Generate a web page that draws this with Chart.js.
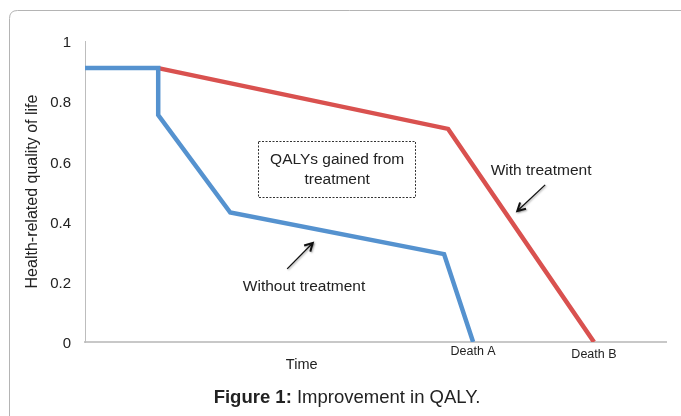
<!DOCTYPE html>
<html>
<head>
<meta charset="utf-8">
<script src="https://cdn.jsdelivr.net/npm/chart.js@4.4.1/dist/chart.umd.min.js"></script>
<style>
html,body{margin:0;padding:0;background:#fff;}
#wrap{width:681px;height:416px;position:relative;}
</style>
</head>
<body>
<div id="wrap"><canvas id="c" width="681" height="416"></canvas></div>
<script>
// ---- data (time in arbitrary units, quality of life 0..1) ----
const withoutTime = [0, 12.6, 12.6, 25.0, 61.8, 66.8];
const withoutQoL  = [0.91, 0.91, 0.754, 0.43, 0.292, 0];
const withTime    = [12.6, 62.5, 87.6];
const withQoL     = [0.91, 0.708, 0];
const yTickValues = [0, 0.2, 0.4, 0.6, 0.8, 1];
const yTickLabels = ['0', '0.2', '0.4', '0.6', '0.8', '1'];
const eventLabels = ['Death A', 'Death B'];
const eventTimes  = [66.8, 87.6];
const seriesNames = ['Without treatment', 'With treatment'];
const boxLines    = ['QALYs gained from', 'treatment'];

const FONT = '"Liberation Sans", Arial, sans-serif';
const TXT = '#222';

function arrow(ctx, x1, y1, x2, y2) {
  ctx.save();
  ctx.strokeStyle = '#111';
  ctx.lineWidth = 1.3;
  ctx.shadowColor = 'rgba(0,0,0,0.35)';
  ctx.shadowBlur = 2; ctx.shadowOffsetX = 1; ctx.shadowOffsetY = 1;
  ctx.beginPath(); ctx.moveTo(x1, y1); ctx.lineTo(x2, y2); ctx.stroke();
  const a = Math.atan2(y2 - y1, x2 - x1), L = 9, s = 0.5;
  ctx.lineWidth = 2;
  ctx.beginPath();
  ctx.moveTo(x2 - L * Math.cos(a - s), y2 - L * Math.sin(a - s));
  ctx.lineTo(x2, y2);
  ctx.lineTo(x2 - L * Math.cos(a + s), y2 - L * Math.sin(a + s));
  ctx.stroke();
  ctx.restore();
}

const deco = {
  id: 'deco',
  beforeDraw(chart) {
    const ctx = chart.ctx;
    ctx.save();
    ctx.fillStyle = '#fff';
    ctx.fillRect(0, 0, chart.width, chart.height);
    ctx.strokeStyle = '#b4b4b4';
    ctx.lineWidth = 1;
    const x = 9.5, y = 10.5, w = 700, h = 430, r = 8;
    ctx.beginPath();
    ctx.moveTo(x + r, y); ctx.lineTo(x + w, y);
    ctx.moveTo(x, y + h); ctx.lineTo(x, y + r);
    ctx.quadraticCurveTo(x, y, x + r, y);
    ctx.stroke();
    ctx.restore();
  },
  afterDraw(chart) {
    const ctx = chart.ctx;
    const xs = chart.scales.x, ys = chart.scales.y;
    const X = v => xs.getPixelForValue(v), Y = v => ys.getPixelForValue(v);
    const bottom = chart.chartArea.bottom;
    ctx.save();
    ctx.fillStyle = TXT;
    ctx.textAlign = 'center';
    ctx.textBaseline = 'middle';
    ctx.font = '12.5px ' + FONT;
    ctx.fillText(eventLabels[0], X(eventTimes[0]), bottom + 10);
    ctx.fillText(eventLabels[1], X(eventTimes[1]), bottom + 13);
    ctx.font = '14.5px ' + FONT;
    ctx.fillText('Time', X(37.3), bottom + 23);
    ctx.save();
    ctx.strokeStyle = '#333';
    ctx.lineWidth = 1;
    ctx.setLineDash([2, 1.5]);
    const bx1 = Math.round(X(29.8)) + 0.5, bx2 = Math.round(X(56.8)) + 0.5;
    const by1 = Math.round(Y(0.667)) + 0.5, by2 = Math.round(Y(0.482)) + 0.5;
    ctx.strokeRect(bx1, by1, bx2 - bx1, by2 - by1);
    ctx.restore();
    ctx.font = '15.5px ' + FONT;
    ctx.fillText(boxLines[0], X(43.4), Y(0.605));
    ctx.fillText(boxLines[1], X(43.4), Y(0.538));
    ctx.fillText(seriesNames[1], X(78.5), Y(0.568));
    ctx.fillText(seriesNames[0], X(37.7), Y(0.183));
    arrow(ctx, X(79.2), Y(0.522), X(74.4), Y(0.435));
    arrow(ctx, X(34.8), Y(0.243), X(39.2), Y(0.329));
    const p1 = 'Figure 1:';
    const p2 = ' Improvement in QALY.';
    ctx.font = 'bold 18.5px ' + FONT;
    const w1 = ctx.measureText(p1).width;
    ctx.font = '18.5px ' + FONT;
    const w2 = ctx.measureText(p2).width;
    const cx = 347, cy = 398;
    const sx = cx - (w1 + w2) / 2;
    ctx.textAlign = 'left';
    ctx.font = 'bold 18.5px ' + FONT;
    ctx.fillText(p1, sx, cy);
    ctx.font = '18.5px ' + FONT;
    ctx.fillText(p2, sx + w1, cy);
    ctx.restore();
  }
};

new Chart(document.getElementById('c'), {
  type: 'line',
  data: {
    datasets: [
      {
        label: seriesNames[0],
        data: withoutTime.map((t, i) => ({x: t, y: withoutQoL[i]})),
        borderColor: '#5592cf',
        borderWidth: 4.5,
        pointRadius: 0,
        tension: 0,
        fill: false,
        borderJoinStyle: 'miter',
        borderCapStyle: 'butt'
      },
      {
        label: seriesNames[1],
        data: withTime.map((t, i) => ({x: t, y: withQoL[i]})),
        borderColor: '#d9514f',
        borderWidth: 4.5,
        pointRadius: 0,
        tension: 0,
        fill: false,
        borderJoinStyle: 'miter',
        borderCapStyle: 'butt'
      }
    ]
  },
  options: {
    responsive: false,
    animation: false,
    events: [],
    layout: {padding: {left: 0, top: 41, right: 15, bottom: 74}},
    plugins: {legend: {display: false}, tooltip: {enabled: false}, title: {display: false}},
    scales: {
      x: {
        type: 'linear',
        min: 0,
        max: 100,
        grid: {display: false, drawTicks: false},
        border: {display: true, color: '#c8c8c8', width: 2},
        ticks: {display: false},
        afterFit(s) { s.height = 0; }
      },
      y: {
        type: 'linear',
        min: 0,
        max: 1,
        grid: {display: false, drawTicks: false},
        border: {display: true, color: '#bdbdbd', width: 1},
        afterBuildTicks(s) { s.ticks = yTickValues.map(v => ({value: v})); },
        ticks: {
          padding: 14,
          labelOffset: 2,
          color: TXT,
          font: {family: FONT, size: 15},
          callback: (v) => yTickLabels[yTickValues.indexOf(v)]
        },
        title: {
          display: true,
          text: 'Health-related quality of life',
          color: TXT,
          font: {family: FONT, size: 16},
          padding: {top: 23, bottom: 0}
        },
        afterFit(s) { s.width = 85; }
      }
    }
  },
  plugins: [deco]
});
</script>
</body>
</html>
